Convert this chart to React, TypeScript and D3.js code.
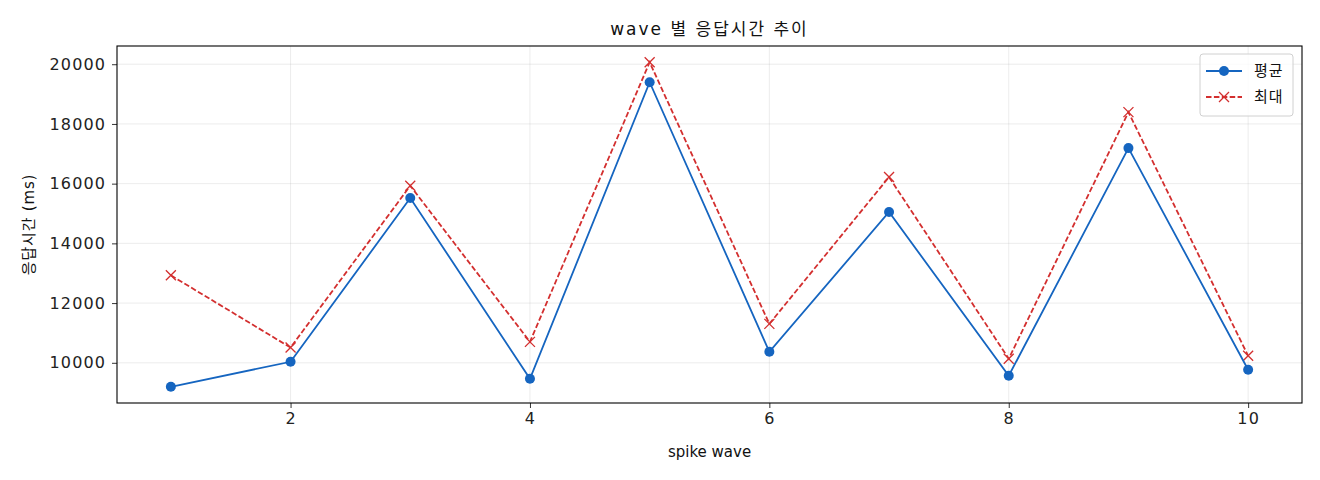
import * as d3 from 'd3';
import { useEffect, useRef } from 'react';

const waves = [1, 2, 3, 4, 5, 6, 7, 8, 9, 10];
const avgMs = [9197, 10033, 15518, 9465, 19398, 10368, 15050, 9565, 17191, 9766];
const maxMs = [12930, 10510, 15930, 10702, 20067, 11304, 16221, 10134, 18395, 10234];
const xTicks = [2, 4, 6, 8, 10];
const yTicks = [10000, 12000, 14000, 16000, 18000, 20000];

const FONT = '"DejaVu Sans", "Noto Sans CJK KR", sans-serif';
const BLUE = '#1565c0';
const RED = '#d32f2f';

const App = (): React.ReactElement => {
  const ref: any = useRef();
  const width = 1320;
  const height = 480;
  const m = { left: 117, right: 1302, top: 46, bottom: 403 };

  useEffect(() => {
    const svg = d3.select(ref.current);
    svg.selectAll('*').remove();

    const xScale = d3.scaleLinear().domain([0.55, 10.45]).range([m.left, m.right]);
    const lo = Math.min(...avgMs, ...maxMs);
    const hi = Math.max(...avgMs, ...maxMs);
    const pad = (hi - lo) * 0.05;
    const yScale = d3.scaleLinear().domain([lo - pad, hi + pad]).range([m.bottom, m.top]);

    // grid
    const grid = svg.append('g');
    grid
      .selectAll('line.gx')
      .data(xTicks)
      .enter()
      .append('line')
      .attr('x1', (d) => xScale(d))
      .attr('x2', (d) => xScale(d))
      .attr('y1', m.top)
      .attr('y2', m.bottom)
      .attr('stroke', '#b0b0b0')
      .attr('stroke-opacity', 0.3)
      .attr('stroke-width', 0.8);
    grid
      .selectAll('line.gy')
      .data(yTicks)
      .enter()
      .append('line')
      .attr('x1', m.left)
      .attr('x2', m.right)
      .attr('y1', (d) => yScale(d))
      .attr('y2', (d) => yScale(d))
      .attr('stroke', '#b0b0b0')
      .attr('stroke-opacity', 0.3)
      .attr('stroke-width', 0.8);

    // axes
    const xAxis = svg
      .append('g')
      .attr('transform', 'translate(0,' + m.bottom + ')')
      .call(d3.axisBottom(xScale).tickValues(xTicks).tickSize(5).tickPadding(5).tickFormat(d3.format('d')));
    const yAxis = svg
      .append('g')
      .attr('transform', 'translate(' + m.left + ',0)')
      .call(d3.axisLeft(yScale).tickValues(yTicks).tickSize(5).tickPadding(6).tickFormat(d3.format('d')));
    [xAxis, yAxis].forEach((a) => {
      a.select('.domain').remove();
      a.selectAll('line').attr('stroke', '#000').attr('stroke-width', 0.8);
      a.selectAll('text')
        .attr('font-family', FONT)
        .attr('font-size', 16)
        .attr('letter-spacing', 1.1)
        .attr('fill', '#222');
    });

    // frame
    svg
      .append('rect')
      .attr('x', m.left)
      .attr('y', m.top)
      .attr('width', m.right - m.left)
      .attr('height', m.bottom - m.top)
      .attr('fill', 'none')
      .attr('stroke', '#000')
      .attr('stroke-width', 1.1);

    const line = d3
      .line<number>()
      .x((_, i) => xScale(waves[i]))
      .y((d) => yScale(d));

    // max (dashed, x markers)
    svg
      .append('path')
      .attr('d', line(maxMs))
      .attr('fill', 'none')
      .attr('stroke', RED)
      .attr('stroke-width', 1.8)
      .attr('stroke-dasharray', '5.5,2.4');
    const xs = 5;
    svg
      .append('g')
      .selectAll('path')
      .data(maxMs)
      .enter()
      .append('path')
      .attr('d', (d, i) => {
        const cx = xScale(waves[i]);
        const cy = yScale(d);
        return `M${cx - xs},${cy - xs}L${cx + xs},${cy + xs}M${cx - xs},${cy + xs}L${cx + xs},${cy - xs}`;
      })
      .attr('stroke', RED)
      .attr('stroke-width', 1.3);

    // avg (solid, dots)
    svg
      .append('path')
      .attr('d', line(avgMs))
      .attr('fill', 'none')
      .attr('stroke', BLUE)
      .attr('stroke-width', 1.8);
    svg
      .append('g')
      .selectAll('circle')
      .data(avgMs)
      .enter()
      .append('circle')
      .attr('cx', (_, i) => xScale(waves[i]))
      .attr('cy', (d) => yScale(d))
      .attr('r', 5)
      .attr('fill', BLUE);

    // labels
    svg
      .append('text')
      .attr('x', (m.left + m.right) / 2)
      .attr('y', 35)
      .attr('text-anchor', 'middle')
      .attr('font-family', FONT)
      .attr('font-size', 17)
      .attr('letter-spacing', 2)
      .attr('fill', '#111')
      .text('wave 별 응답시간 추이');
    svg
      .append('text')
      .attr('x', (m.left + m.right) / 2)
      .attr('y', 457)
      .attr('text-anchor', 'middle')
      .attr('font-family', FONT)
      .attr('font-size', 15)
      .attr('fill', '#111')
      .text('spike wave');
    svg
      .append('text')
      .attr('transform', `translate(34,${(m.top + m.bottom) / 2}) rotate(-90)`)
      .attr('text-anchor', 'middle')
      .attr('font-family', FONT)
      .attr('font-size', 15)
      .attr('letter-spacing', 0.8)
      .attr('fill', '#111')
      .text('응답시간 (ms)');

    // legend
    const lg = svg.append('g').attr('transform', 'translate(1200,54)');
    lg.append('rect')
      .attr('width', 93)
      .attr('height', 62)
      .attr('rx', 3)
      .attr('fill', '#fff')
      .attr('fill-opacity', 0.8)
      .attr('stroke', '#d0d0d0');
    lg.append('line').attr('x1', 6).attr('x2', 42).attr('y1', 17).attr('y2', 17).attr('stroke', BLUE).attr('stroke-width', 1.8);
    lg.append('circle').attr('cx', 24).attr('cy', 17).attr('r', 5).attr('fill', BLUE);
    lg.append('line')
      .attr('x1', 6)
      .attr('x2', 42)
      .attr('y1', 43)
      .attr('y2', 43)
      .attr('stroke', RED)
      .attr('stroke-width', 1.8)
      .attr('stroke-dasharray', '5.5,2.4');
    lg.append('path').attr('d', 'M19,38L29,48M19,48L29,38').attr('stroke', RED).attr('stroke-width', 1.3);
    lg.append('text').attr('x', 54).attr('y', 22).attr('font-family', FONT).attr('font-size', 15).attr('letter-spacing', 1).attr('fill', '#111').text('평균');
    lg.append('text').attr('x', 54).attr('y', 48).attr('font-family', FONT).attr('font-size', 15).attr('letter-spacing', 1).attr('fill', '#111').text('최대');
  }, []);

  return <svg ref={ref} width={width} height={height} style={{ display: 'block', position: 'absolute', left: 0, top: 0 }} />;
};

export default App;
